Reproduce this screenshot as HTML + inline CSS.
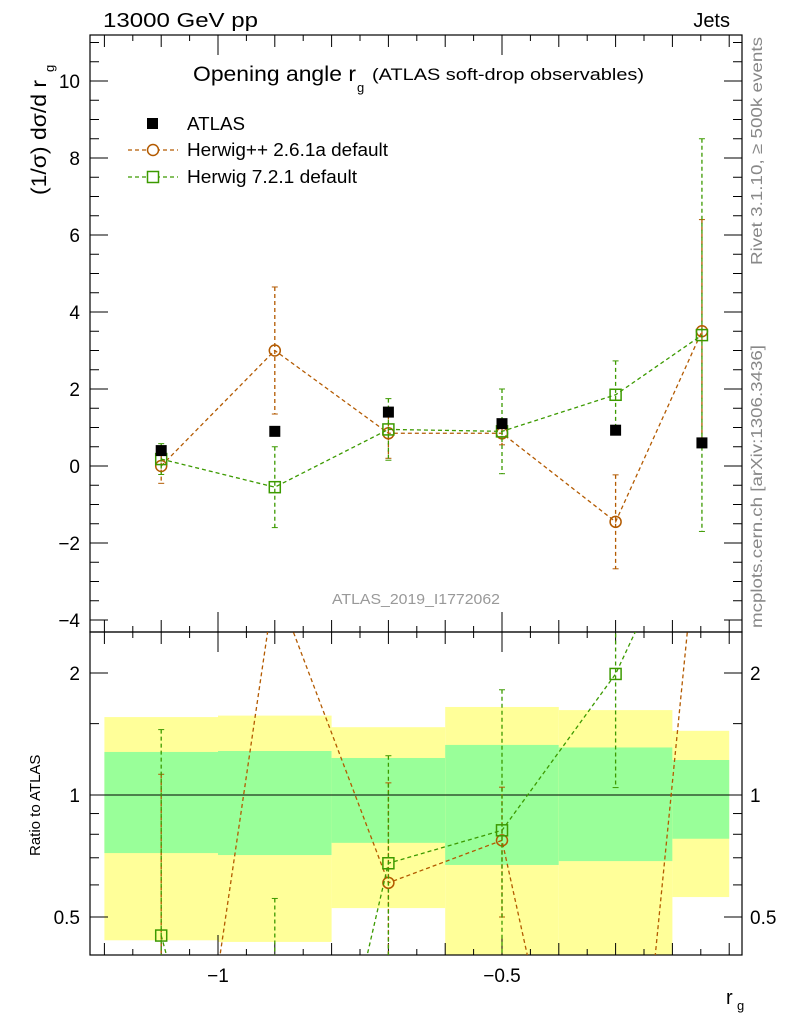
<!DOCTYPE html>
<html><head><meta charset="utf-8"><style>
html,body{margin:0;background:#fff;font-family:"Liberation Sans",sans-serif;overflow:hidden;width:786px;height:1024px}
svg{display:block}
svg text{font-family:"Liberation Sans",sans-serif}
</style></head><body>
<svg id="c" width="786" height="1024" xmlns="http://www.w3.org/2000/svg"></svg>
<script>
const xCenters=[-1.1,-0.9,-0.7,-0.5,-0.3,-0.148];
const binEdges=[-1.2,-1.0,-0.8,-0.6,-0.4,-0.2,-0.1];
const atlasVals=[0.4,0.9,1.4,1.1,0.93,0.6];
const atlasErr=[0.1,0.05,0.1,0.08,0.05,0.05];
const hppVals=[0.0,3.0,0.85,0.85,-1.45,3.5];
const hppErr=[0.45,1.65,0.65,0.3,1.22,2.9];
const h7Vals=[0.18,-0.55,0.95,0.9,1.85,3.4];
const h7Err=[0.4,1.05,0.8,1.1,0.88,5.1];
const yellowLo=[0.438,0.434,0.526,0.35,0.35,0.56];
const yellowHi=[1.557,1.57,1.47,1.649,1.62,1.44];
const greenLo=[0.719,0.711,0.762,0.672,0.687,0.78];
const greenHi=[1.277,1.284,1.234,1.329,1.31,1.22];
const yTicks=[-4,-2,0,2,4,6,8,10];
const xTicks=[-1,-0.5];
const rTicks=[0.5,1,2];

const S=document.getElementById('c');const NS='http://www.w3.org/2000/svg';
function el(t,a,p){const e=document.createElementNS(NS,t);for(const k in a)e.setAttribute(k,a[k]);(p||S).appendChild(e);return e;}
const L=90,R=742,T=35,M=632,B=955;
const X=v=>502+568*(v+0.5);
const Y=v=>466-38.5*v;
const RY=r=>795-122*Math.log2(r);
const defs=el('defs',{});
const c1=el('clipPath',{id:'cm'},defs);el('rect',{x:L,y:T,width:R-L,height:M-T},c1);
const c2=el('clipPath',{id:'cr'},defs);el('rect',{x:L,y:M,width:R-L,height:B-M},c2);
const gb=el('g',{'clip-path':'url(#cr)'});

for(let i=0;i<xCenters.length;i++){
 const x0=X(binEdges[i]),x1=X(binEdges[i+1]);
 const y=el('rect',{x:x0,y:RY(yellowHi[i]),width:x1-x0,height:RY(yellowLo[i])-RY(yellowHi[i]),fill:'#ffff99'},gb);
 
 const g=el('rect',{x:x0,y:RY(greenHi[i]),width:x1-x0,height:RY(greenLo[i])-RY(greenHi[i]),fill:'#99ff99'},gb);
 
}
el('line',{x1:L,x2:R,y1:RY(1),y2:RY(1),stroke:'#000','stroke-width':1});
el('rect',{x:L,y:T,width:R-L,height:M-T,fill:'none',stroke:'#000','stroke-width':1.2});
el('rect',{x:L,y:M,width:R-L,height:B-M,fill:'none',stroke:'#000','stroke-width':1.2});
for(let v=-4;v<=11;v+=0.5){const y=Y(v);if(y<T)continue;const maj=Math.abs(v%2)<1e-6;const len=maj?18:9;
 el('line',{x1:L,x2:L+len,y1:y,y2:y,stroke:'#000'});el('line',{x1:R,x2:R-len,y1:y,y2:y,stroke:'#000'});}
yTicks.forEach(v=>{const t=el('text',{x:80,y:Y(v)+7,'text-anchor':'end','font-size':19});t.textContent=v<0?'\u2212'+(-v):v;
 });
for(let k=-24;k<=-1;k++){const v=k*0.05;const x=X(v);if(x<L||x>R)continue;const maj=k%10===0;const mid=k%2===0;const len=maj?20:(mid?12:6);
 [T,M].forEach(b=>el('line',{x1:x,x2:x,y1:b,y2:b+len,stroke:'#000'}));
 [M,B].forEach(b=>el('line',{x1:x,x2:x,y1:b,y2:b-len,stroke:'#000'}));}
xTicks.forEach(v=>{const t=el('text',{x:X(v),y:982,'text-anchor':'middle','font-size':19});t.textContent='\u2212'+(-v);
 });
[0.4,0.5,0.6,0.7,0.8,0.9,1,1.5,2].forEach(r=>{const y=RY(r);if(y<M||y>B)return;const maj=rTicks.includes(r);const len=maj?18:9;
 el('line',{x1:L,x2:L+len,y1:y,y2:y,stroke:'#000'});el('line',{x1:R,x2:R-len,y1:y,y2:y,stroke:'#000'});});
rTicks.forEach(r=>{[[80,'end'],[750,'start']].forEach(([x,a])=>{const t=el('text',{x:x,y:RY(r)+7,'text-anchor':a,'font-size':19});t.textContent=r;
 });});
function series(vals,errs,color,mk,clip,ymap,name,topLimit){
 const g=el('g',{'clip-path':'url(#'+clip+')'});
 const pts=vals.map((v,i)=>[X(xCenters[i]),ymap(v)]);
 el('polyline',{points:pts.map(p=>p.join(',')).join(' '),fill:'none',stroke:color,'stroke-width':1.3,'stroke-dasharray':'4,3'},g);
 vals.forEach((v,i)=>{const x=X(xCenters[i]);const y=ymap(v);
  if(y<topLimit)return;
  const y1=ymap(v+errs[i]),y2=ymap(v-errs[i]);
  el('line',{x1:x,x2:x,y1:y1,y2:y2,stroke:color,'stroke-width':1.3,'stroke-dasharray':'4,3'},g);
  el('line',{x1:x-3,x2:x+3,y1:y1,y2:y1,stroke:color},g);el('line',{x1:x-3,x2:x+3,y1:y2,y2:y2,stroke:color},g);
  const m=mk==='c'?el('circle',{cx:x,cy:y,r:5.5,fill:'none',stroke:color,'stroke-width':1.5},g):el('rect',{x:x-5.5,y:y-5.5,width:11,height:11,fill:'none',stroke:color,'stroke-width':1.5},g);
  });
}
series(hppVals,hppErr,'#b35a00','c','cm',v=>Y(v),'herwigpp-series',T);
series(h7Vals,h7Err,'#3c9a00','s','cm',v=>Y(v),'herwig7-series',T);
const rH=hppVals.map((v,i)=>v/atlasVals[i]),rHe=hppErr.map((e,i)=>e/atlasVals[i]);
const r7=h7Vals.map((v,i)=>v/atlasVals[i]),r7e=h7Err.map((e,i)=>e/atlasVals[i]);
const RYs=v=>v>0.01?RY(v):B+400;
series(rH,rHe,'#b35a00','c','cr',RYs,'herwigpp-ratio',M);
series(r7,r7e,'#3c9a00','s','cr',RYs,'herwig7-ratio',M);
atlasVals.forEach((v,i)=>{const x=X(xCenters[i]);
 el('line',{x1:x,x2:x,y1:Y(v+atlasErr[i]),y2:Y(v-atlasErr[i]),stroke:'#000'});
 const r=el('rect',{x:x-5.5,y:Y(v)-5.5,width:11,height:11,fill:'#000'});
 });
function tx(x,y,s,str,attrs,name,len){const a=Object.assign({x:x,y:y,'font-size':s},attrs||{});if(len){a.textLength=len;a.lengthAdjust='spacingAndGlyphs';}const t=el('text',a);t.textContent=str;return t;}
tx(103,27,20,'13000 GeV pp',{},'energy-label',155);
tx(730,27,20,'Jets',{'text-anchor':'end'},'process-label');
tx(193,81,21,'Opening angle r',{},'plot-title',163);
tx(357,92,13,'g',{},'plot-title-sub');
tx(372,80,17,'(ATLAS soft-drop observables)',{},'plot-title-note',272);
tx(332,604,15,'ATLAS_2019_I1772062',{fill:'#999'},'analysis-id',168);
el('rect',{x:147,y:118,width:11,height:11,fill:'#000'});
tx(187,130,18,'ATLAS',{},'legend-atlas',58);
el('line',{x1:128,x2:178,y1:150,y2:150,stroke:'#b35a00','stroke-dasharray':'4,3','stroke-width':1.3});
el('circle',{cx:153,cy:150,r:5.5,fill:'#fff',stroke:'#b35a00','stroke-width':1.5});
tx(187,156,18,'Herwig++ 2.6.1a default',{},'legend-herwigpp',201);
el('line',{x1:128,x2:178,y1:177,y2:177,stroke:'#3c9a00','stroke-dasharray':'4,3','stroke-width':1.3});
el('rect',{x:147.5,y:171.5,width:11,height:11,fill:'#fff',stroke:'#3c9a00','stroke-width':1.5});
tx(187,183,18,'Herwig 7.2.1 default',{},'legend-herwig7',170);
tx(0,0,21,'(1/\u03c3) d\u03c3/d r',{transform:'translate(46,195) rotate(-90)'},'y-axis-title',115);
tx(0,0,13,'g',{transform:'translate(54,72) rotate(-90)'},'y-axis-title-sub');
tx(0,0,15,'Ratio to ATLAS',{transform:'translate(40,856) rotate(-90)'},'ratio-axis-title');
tx(726,1004,20,'r',{},'x-axis-title');tx(737,1010,13,'g',{},'x-axis-title-sub');
tx(0,0,16,'Rivet 3.1.10, \u2265 500k events',{transform:'translate(762,265) rotate(-90)',fill:'#888'},'rivet-label',228);
tx(0,0,16,'mcplots.cern.ch [arXiv:1306.3436]',{transform:'translate(762,628) rotate(-90)',fill:'#888'},'mcplots-label',283);
</script>
</body></html>
